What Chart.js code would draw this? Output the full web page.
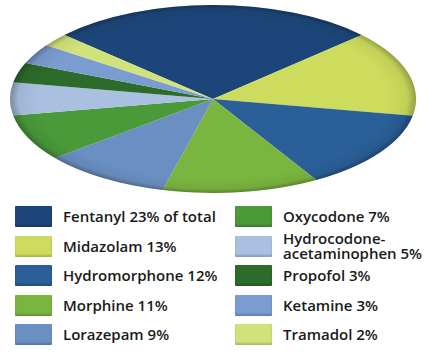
<!DOCTYPE html>
<html>
<head>
<meta charset="utf-8">
<script src="https://cdn.jsdelivr.net/npm/chart.js@4/dist/chart.umd.min.js"></script>
<style>
  html, body { margin: 0; padding: 0; background: #fff; }
  #wrap { position: relative; width: 425px; height: 352px; overflow: hidden; }
  #pie-box { position: absolute; left: 0; top: 0; width: 425px; height: 200px; }
  .legend-col { position: absolute; top: 202px; }
  .item { display: flex; align-items: center; height: 29.5px; }
  .swatch { width: 37px; height: 21px; flex: none; border-radius: 1px;
            box-shadow: inset 0 -2px 2px rgba(0,0,0,0.18); }
  .label { margin-left: 11px; font-family: "Open Sans", sans-serif; font-size: 15px;
           font-weight: 600; color: #1a1a1a; line-height: 15.5px; white-space: nowrap; }
</style>
</head>
<body>
<div id="wrap">
  <div id="pie-box"><canvas id="pieChart" width="425" height="200"></canvas></div>
  <div class="legend-col" id="legend-left" style="left:15px"></div>
  <div class="legend-col" id="legend-right" style="left:235px"></div>
</div>
<script>
// data
const drugs = ['Fentanyl', 'Midazolam', 'Hydromorphone', 'Morphine', 'Lorazepam',
               'Oxycodone', 'Hydrocodone-acetaminophen', 'Propofol', 'Ketamine', 'Tramadol'];
const legendText = ['Fentanyl 23% of total', 'Midazolam 13%', 'Hydromorphone 12%', 'Morphine 11%',
                    'Lorazepam 9%', 'Oxycodone 7%', 'Hydrocodone-<br>acetaminophen 5%', 'Propofol 3%',
                    'Ketamine 3%', 'Tramadol 2%'];
const shares = [23, 13, 12, 11, 9, 7, 5, 3, 3, 2];
const colors = ['#1c4679', '#cddc5c', '#2a5f98', '#7ab540', '#6a8fc2',
                '#4a9a3a', '#a9c0e0', '#2d6b2a', '#7a9cd0', '#d2e27a'];

// ellipse size of the flattened pie
const rxPie = 203;
const ryPie = 94;
const cxPie = 213;
const cyPie = 99;

// squash the round pie into an ellipse
const ellipsePlugin = {
    id: 'ellipse',
    beforeDatasetsDraw(chart) {
        const arc = chart.getDatasetMeta(0).data[0];
        const r = arc.outerRadius;
        const ctx = chart.ctx;
        ctx.save();
        ctx.translate(cxPie, cyPie);
        ctx.scale(rxPie / r, ryPie / r);
        ctx.translate(-arc.x, -arc.y);
    },
    afterDatasetsDraw(chart) {
        const arc = chart.getDatasetMeta(0).data[0];
        const r = arc.outerRadius;
        const ctx = chart.ctx;
        // rim shading
        const g = ctx.createRadialGradient(arc.x, arc.y, r * 0.86, arc.x, arc.y, r);
        g.addColorStop(0, 'rgba(0,0,0,0)');
        g.addColorStop(0.7, 'rgba(0,0,0,0.06)');
        g.addColorStop(1, 'rgba(0,0,0,0.28)');
        ctx.beginPath();
        ctx.arc(arc.x, arc.y, r, 0, Math.PI * 2);
        ctx.fillStyle = g;
        ctx.fill();
        ctx.restore();
    }
};

var ctxPie = document.getElementById('pieChart').getContext('2d');
var pieChart = new Chart(ctxPie, {
    type: 'pie',
    data: {
        labels: drugs,
        datasets: [{
            data: shares,
            backgroundColor: colors,
            borderWidth: 0
        }]
    },
    options: {
        responsive: false,
        animation: false,
        rotation: -47,
        layout: { padding: 4 },
        plugins: {
            legend: { display: false },
            tooltip: { enabled: false }
        }
    },
    plugins: [ellipsePlugin]
});

// HTML legend in two columns
function addItem(col, i) {
    const row = document.createElement('div');
    row.className = 'item';
    const sw = document.createElement('div');
    sw.className = 'swatch';
    sw.style.background = colors[i];
    const lb = document.createElement('div');
    lb.className = 'label';
    lb.innerHTML = legendText[i];
    row.appendChild(sw);
    row.appendChild(lb);
    col.appendChild(row);
}
const left = document.getElementById('legend-left');
const right = document.getElementById('legend-right');
for (let i = 0; i < 5; i++) addItem(left, i);
for (let i = 5; i < 10; i++) addItem(right, i);
</script>
</body>
</html>
